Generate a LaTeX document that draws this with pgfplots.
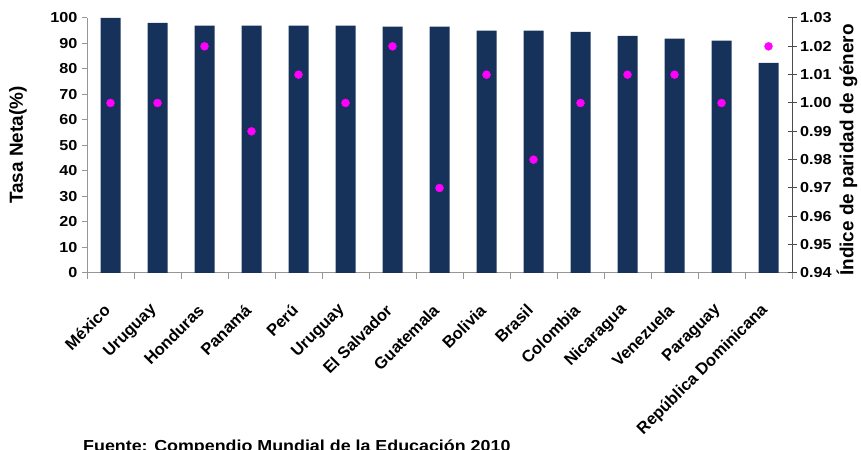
\documentclass[border=0pt]{standalone}
\usepackage{fontspec}
\setmainfont{Liberation Sans}
\newfontfamily\wide{Liberation Sans}[FakeStretch=1.12]
\usepackage{pgfplots}
\pgfplotsset{compat=1.18}
\definecolor{navy}{RGB}{23,50,90}
\definecolor{axgray}{RGB}{150,150,150}
\definecolor{dotmag}{RGB}{255,0,255}
\newcommand{\tickfont}{\wide\bfseries\fontsize{14.5}{16}\selectfont}
\newcommand{\labfont}{\bfseries\fontsize{19}{21}\selectfont}
\begin{document}
\begin{tikzpicture}[x=1bp,y=1bp]
\path[use as bounding box] (0,0) rectangle (861,450);
\clip (0,0) rectangle (861,450);
\begin{axis}[
  at={(87bp,177bp)}, anchor=south west,
  scale only axis, width=705bp, height=255bp,
  xmin=-0.5, xmax=14.5, ymin=0, ymax=100,
  axis x line*=bottom, axis y line*=left,
  axis line style={axgray, line width=1bp},
  ytick={0,10,...,100},
  xtick={0,...,14},
  xticklabels={México,Uruguay,Honduras,Panamá,Perú,Uruguay,El Salvador,Guatemala,Bolivia,Brasil,Colombia,Nicaragua,Venezuela,Paraguay,República Dominicana},
  x tick style={draw=none},
  extra x ticks={-0.5,0.5,...,14.5},
  extra x tick labels={},
  extra x tick style={x tick style={draw=axgray, line width=1bp}, major tick length=6bp, tick align=outside},
  y tick style={draw=axgray, line width=1bp},
  major tick length=5bp, tick align=outside,
  /pgf/number format/assume math mode=true,
  yticklabel style={font=\tickfont, xshift=-1bp},
  xticklabel style={font=\bfseries\fontsize{16.5}{18}\selectfont, xshift=-1bp, yshift=-27bp, rotate=45, anchor=east},
  ylabel={Tasa Neta(\%)},
  every axis y label/.style={at={(axis description cs:-0.098,0.502)}, rotate=90, anchor=center, font=\labfont},
  ybar, bar width=20bp,
]
\addplot[fill=navy, draw=none] coordinates {
(0,100) (1,98.1) (2,97) (3,97) (4,97) (5,97) (6,96.6) (7,96.6) (8,95) (9,95) (10,94.6) (11,93) (12,91.9) (13,91.1) (14,82.4)};
\end{axis}
\begin{axis}[
  at={(87bp,177bp)}, anchor=south west,
  scale only axis, width=705bp, height=255bp,
  xmin=-0.5, xmax=14.5, ymin=0.94, ymax=1.03,
  axis y line*=right, axis x line=none,
  axis line style={black!70, line width=1bp},
  ytick={0.94,0.95,...,1.031},
  y tick style={draw=black!70, line width=1bp},
  major tick length=9bp, tick align=center,
  /pgf/number format/.cd, fixed, fixed zerofill, precision=2, assume math mode=true,
  /pgfplots/.cd,
  yticklabel style={font=\tickfont, anchor=west, xshift=0bp},
  ylabel={Índice de paridad de género},
  every axis y label/.style={at={(axis description cs:1.078,0.482)}, rotate=90, anchor=center, font=\labfont},
]
\addplot[only marks, mark=*, mark size=4bp, color=dotmag] coordinates {
(0,1.00) (1,1.00) (2,1.02) (3,0.99) (4,1.01) (5,1.00) (6,1.02) (7,0.97) (8,1.01) (9,0.98) (10,1.00) (11,1.01) (12,1.01) (13,1.00) (14,1.02)};
\end{axis}
\node[anchor=base west, font=\wide\bfseries\fontsize{16}{18}\selectfont, inner sep=0] at (83,-2) {Fuente: Compendio Mundial de la Educación 2010};
\end{tikzpicture}
\end{document}
